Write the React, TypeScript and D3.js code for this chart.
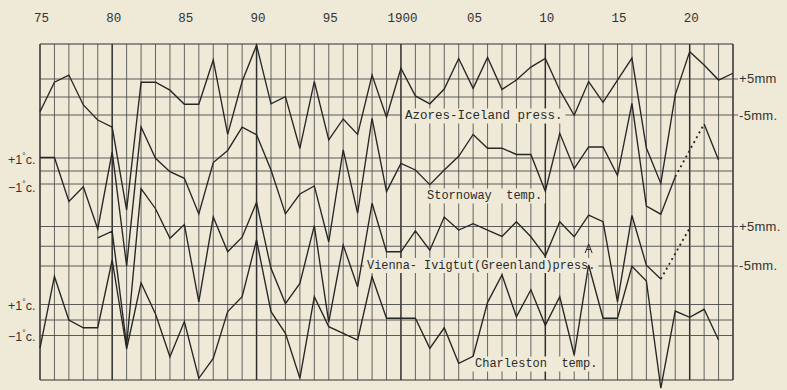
import React from 'react';
import * as d3 from 'd3';

// ---- data ----
const START_YEAR = 1875;
const END_YEAR = 1923;
const yearTicks = [1875, 1880, 1885, 1890, 1895, 1900, 1905, 1910, 1915, 1920];
const yearTickLabels = ['75', '80', '85', '90', '95', '1900', '05', '10', '15', '20'];

// Azores - Iceland pressure difference anomaly, mm (1875..1923)
const azoresStart = 1875;
const azoresPress = [
  -4.1, 4.1, 6.1, -2.2, -6.4, -8.4, -31.4, 4.1, 4.1, 1.9,
  -2.0, -2.0, 10.3, -10.4, 4.3, 14.4, -1.9, 0.1, -14.3, 4.3,
  -11.9, -6.1, -10.4, 6.1, -5.6, 8.0, 0.3, -1.9, 2.2, 10.7,
  2.4, 11.0, 2.1, 4.7, 8.3, 10.7, 1.9, -5.1, 4.3, -1.5,
  4.7, 10.8, -14.2, -24.0, 0.6, 12.6, 8.9, 4.7, 6.6,
];

// Stornoway temperature anomaly, °C (1875..1922), null = dotted gap
const stornowayStart = 1875;
const stornowayTemp = [
  1.04, 1.04, -2.35, -1.21, -4.46, 1.48, -7.3, 3.38, 0.98, -0.05,
  -0.56, -3.3, 0.65, 1.58, 3.38, 2.79, 0.08, -3.3, -1.77, -1.15,
  -5.46, 1.62, -3.25, 4.05, -1.59, 0.58, 0.08, -1.05, 0.08, 1.13,
  2.81, 1.75, 1.75, 1.27, 1.27, -1.56, 2.9, 0.18, 1.85, 1.85,
  -0.35, 5.2, -2.69, -3.32, -0.44, null, 3.62, 0.85,
];

// Vienna - Ivigtut (Greenland) pressure difference anomaly, mm (1879..1920)
const viennaStart = 1879;
const viennaPress = [
  2.1, 3.8, -25.1, 14.6, 9.5, 2.0, 5.5, -14.1, 7.4, -1.4,
  2.3, 11.1, -5.6, -14.5, -9.4, 5.2, -19.2, 0.3, -10.3, 10.9,
  -1.4, -1.4, 3.9, -1.0, 7.4, 4.1, 5.7, 4.1, 2.5, 6.2,
  2.4, -2.5, 6.2, 2.4, 7.9, 6.2, -14.1, 7.8, -4.8, -8.3,
  null, 4.6,
];

// Charleston temperature anomaly, °C (1875..1922)
const charlestonStart = 1875;
const charlestonTemp = [
  -1.81, 2.81, 0, -0.5, -0.5, 3.87, -1.87, 2.39, 0.39, -2.37,
  -0.1, -3.76, -2.48, 0.54, 1.5, 5.16, 0.54, -0.86, -3.76, 1.5,
  -0.43, -0.86, -1.29, 2.79, 0.11, 0.11, 0.11, -1.83, -0.5, -2.79,
  -2.34, 1.14, 2.9, 0.21, 1.95, -0.34, 1.5, -2.26, 3.55, 0.11,
  0.11, 3.46, 2.52, -4.39, 0.58, 0.17, 0.69, -1.29,
];

const seriesNames = [
  'Azores-Iceland press.',
  'Stornoway  temp.',
  'Vienna- Ivigtut(Greenland)press.',
  'Charleston  temp.',
];

const PAPER = '#efe9d8';
const INK = '#262626';
const GRID = '#4a4a4a';
const MONO = '"Liberation Mono", "DejaVu Sans Mono", monospace';
const SANS = '"Liberation Sans", Arial, sans-serif';

type Pt = { year: number; v: number | null };

function toPoints(start: number, values: (number | null)[]): Pt[] {
  return values.map((v, i) => ({ year: start + i, v }));
}

function DegLabel({ x, y, sign }: { x: number; y: number; sign: string }) {
  return (
    <text x={x} y={y} fontFamily={SANS} fontSize={12.5} fill="#333">
      {sign + '1'}
      <tspan fontSize={8.5} dy={-4.5}>°</tspan>
      <tspan dy={4.5}>c.</tspan>
    </text>
  );
}

export default function App() {
  const x = d3.scaleLinear().domain([START_YEAR, END_YEAR]).range([40, 733]);
  const top = 44;
  const bottom = 380;

  const panels = [
    { pts: toPoints(azoresStart, azoresPress), y: d3.scaleLinear().domain([-5, 5]).range([115, 79]), ticks: [5, 0, -5] },
    { pts: toPoints(stornowayStart, stornowayTemp), y: d3.scaleLinear().domain([-1, 1]).range([184, 158]), ticks: [1, 0, -1] },
    { pts: toPoints(viennaStart, viennaPress), y: d3.scaleLinear().domain([-5, 5]).range([266, 226.5]), ticks: [5, 0, -5] },
    { pts: toPoints(charlestonStart, charlestonTemp), y: d3.scaleLinear().domain([-1, 1]).range([335.5, 304.5]), ticks: [1, 0, -1] },
  ];

  const years = d3.range(START_YEAR, END_YEAR + 1);

  const labelPos = [
    { x: 405, base: 119, size: 12.5 },
    { x: 427, base: 199, size: 12 },
    { x: 367, base: 268.5, size: 11.9 },
    { x: 475, base: 367, size: 12 },
  ];

  return (
    <svg width={787} height={390} style={{ position: 'absolute', left: 0, top: 0, display: 'block' }}>
      <rect x={0} y={0} width={787} height={390} fill={PAPER} />

      {/* vertical year grid */}
      {years.map((yr) => {
        const decade = yr % 10 === 0 || yr === START_YEAR || yr === END_YEAR;
        return (
          <line key={'v' + yr} x1={x(yr)} x2={x(yr)} y1={top} y2={bottom}
            stroke={decade ? '#2e2e2e' : GRID} strokeWidth={decade ? 1.5 : 0.85} />
        );
      })}

      {/* horizontal reference lines */}
      {panels.map((p, i) =>
        p.ticks.map((t) => (
          <line key={'h' + i + t} x1={x(START_YEAR)} x2={x(END_YEAR) + (i % 2 === 0 && t !== 0 ? 5 : 0)}
            y1={p.y(t)} y2={p.y(t)} stroke={GRID} strokeWidth={0.9} />
        ))
      )}

      {/* frame top & bottom */}
      <line x1={x(START_YEAR)} x2={x(END_YEAR)} y1={top} y2={top} stroke="#333" strokeWidth={1.2} />
      <line x1={x(START_YEAR)} x2={x(END_YEAR)} y1={bottom} y2={bottom} stroke="#333" strokeWidth={1.2} />

      {/* series label backgrounds */}
      {seriesNames.map((name, i) => {
        const lp = labelPos[i];
        const w = name.length * lp.size * 0.6;
        return <rect key={'lb' + i} x={lp.x - 3} y={lp.base - 10.5} width={w + 6} height={15} fill={PAPER} />;
      })}

      {/* series lines */}
      {panels.map((p, i) => {
        const line = d3.line<Pt>()
          .defined((d) => d.v !== null)
          .x((d) => x(d.year))
          .y((d) => p.y(d.v as number));
        const bridges: [Pt, Pt][] = [];
        p.pts.forEach((d, k) => {
          if (d.v === null && k > 0 && p.pts[k - 1].v !== null) {
            let j = k + 1;
            while (j < p.pts.length && p.pts[j].v === null) j++;
            if (j < p.pts.length) bridges.push([p.pts[k - 1], p.pts[j]]);
          }
        });
        return (
          <g key={'s' + i}>
            <path d={line(p.pts) || ''} fill="none" stroke={INK} strokeWidth={1.35} strokeLinejoin="miter" />
            {bridges.map(([a, b], k) => (
              <line key={k} x1={x(a.year)} y1={p.y(a.v as number)} x2={x(b.year)} y2={p.y(b.v as number)}
                stroke={INK} strokeWidth={1.8} strokeDasharray="2 3.5" />
            ))}
          </g>
        );
      })}

      {/* small caret mark */}
      <path d={`M${x(1913) - 3.5},253 L${x(1913)},244 L${x(1913) + 3.5},253 M${x(1913) - 2},249.5 L${x(1913) + 2},249.5`}
        fill="none" stroke={INK} strokeWidth={1} />

      {/* series labels */}
      {seriesNames.map((name, i) => {
        const lp = labelPos[i];
        return (
          <text key={'lt' + i} x={lp.x} y={lp.base} fontFamily={MONO} fontSize={lp.size}
            fill="#2a2a2a" style={{ whiteSpace: 'pre' }} xmlSpace="preserve">{name}</text>
        );
      })}

      {/* top year labels */}
      {yearTicks.map((yr, i) => (
        <text key={'yt' + yr} x={x(yr) + (yr === 1875 ? 1.5 : 1.5)} y={21.5} textAnchor="middle"
          fontFamily={MONO} fontSize={12.5} fill="#333">{yearTickLabels[i]}</text>
      ))}

      {/* right-hand mm labels */}
      <text x={739} y={83} fontFamily={SANS} fontSize={13} fill="#333" letterSpacing={0.3}>+5mm</text>
      <text x={739} y={119.5} fontFamily={SANS} fontSize={13} fill="#333" letterSpacing={0.3}>-5mm.</text>
      <text x={739} y={231} fontFamily={SANS} fontSize={13} fill="#333" letterSpacing={0.3}>+5mm.</text>
      <text x={739} y={269.5} fontFamily={SANS} fontSize={13} fill="#333" letterSpacing={0.3}>-5mm.</text>

      {/* left-hand °C labels */}
      <DegLabel x={8} y={163.5} sign="+" />
      <DegLabel x={8} y={191.5} sign="−" />
      <DegLabel x={8} y={309.5} sign="+" />
      <DegLabel x={8} y={340.5} sign="−" />
    </svg>
  );
}
